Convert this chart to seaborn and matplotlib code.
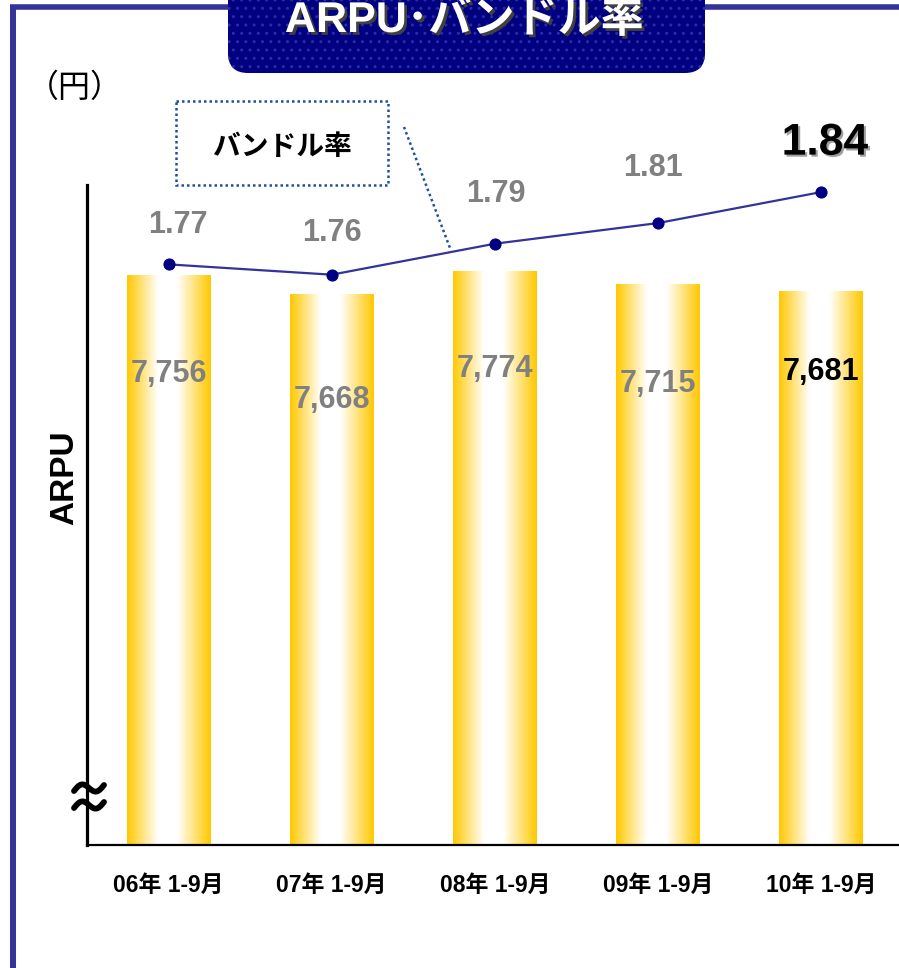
import numpy as np
import matplotlib
matplotlib.use("Agg")
import matplotlib.pyplot as plt
import matplotlib.patheffects as pe
from matplotlib.colors import LinearSegmentedColormap
from matplotlib.patches import FancyBboxPatch, Rectangle
import seaborn as sns

# data
periods = ["06年 1-9月", "07年 1-9月", "08年 1-9月", "09年 1-9月", "10年 1-9月"]
arpu = [7756, 7668, 7774, 7715, 7681]
arpu_labels = ["7,756", "7,668", "7,774", "7,715", "7,681"]
bundle_rate = [1.77, 1.76, 1.79, 1.81, 1.84]
rate_labels = ["1.77", "1.76", "1.79", "1.81", "1.84"]

sns.set_style("white")
plt.rcParams["font.family"] = ["Liberation Sans", "Noto Sans CJK JP", "DejaVu Sans"]
plt.rcParams["text.color"] = "black"
plt.rcParams["xtick.color"] = "black"

W, H = 899, 968
fig = plt.figure(figsize=(W / 100, H / 100), dpi=100)

# main axes (pixel box 87..902 x 185..845)
ax = fig.add_axes([87 / W, 1 - 845 / H, (902.5 - 87) / W, (845 - 185) / H])

gold = "#FFC800"
sns.barplot(x=periods, y=arpu, ax=ax, width=0.515, color=gold, saturation=1)
ax.set_ylim(5129, 8170)
ax.set_xlim(-0.5, 4.5)

cmap = LinearSegmentedColormap.from_list(
    "bar", [(0, gold), (0.37, "white"), (0.6, "white"), (1, gold)])
grad = np.linspace(0, 1, 256).reshape(1, -1)
for p in ax.patches:
    x0, w, top = p.get_x(), p.get_width(), p.get_height()
    im = ax.imshow(grad, extent=[x0, x0 + w, 5129, top], aspect="auto",
                   cmap=cmap, zorder=2)
    im.set_clip_path(p)
    p.set_facecolor("none")
    p.set_linewidth(0)
ax.set_ylim(5129, 8170)
ax.set_xlim(-0.5, 4.5)

# bar value labels (offset below bar top, px)
bar_off = [99, 106, 98, 100, 81]
for i, (v, lab) in enumerate(zip(arpu, arpu_labels)):
    col = "black" if i == len(arpu) - 1 else "#808080"
    ax.annotate(lab, xy=(i, v), xytext=(0, -bar_off[i] * 0.72),
                textcoords="offset points", ha="center", va="center",
                fontsize=22, fontweight="bold", color=col, zorder=5)

sns.despine(ax=ax, top=True, right=True)
ax.spines["left"].set_linewidth(2.3)
ax.spines["bottom"].set_linewidth(1.6)
ax.spines["left"].set_color("black")
ax.spines["bottom"].set_color("black")
ax.set_yticks([])
ax.set_xlabel("")
ax.set_ylabel("")
ax.set_xticks(np.arange(len(periods)))
ax.set_xticklabels(periods, fontsize=16.5, fontweight="bold", color="black")
ax.tick_params(axis="x", which="major", length=0, pad=21)
ax.set_xticks(np.arange(len(periods) - 1) + 0.5, minor=True)
ax.tick_params(axis="x", which="minor", direction="in", length=6, width=1.3,
               color="black")

# bundle rate line
ax2 = ax.twinx()
x_pos = np.arange(len(periods))
sns.lineplot(x=x_pos, y=bundle_rate, ax=ax2, color="#333399", lw=1.6,
             marker="o", markersize=8, markerfacecolor="#000080",
             markeredgecolor="#000080")
ax2.set_ylim(1.2074, 1.8469)
ax2.set_xlim(-0.5, 4.5)
ax2.set_yticks([])
ax2.set_ylabel("")
for s in ax2.spines.values():
    s.set_visible(False)

rate_off = [(9, 39), (0, 42), (1, 50), (-5, 55), (4, 49)]
for i, (v, lab) in enumerate(zip(bundle_rate, rate_labels)):
    dx, dy = rate_off[i]
    if i == len(bundle_rate) - 1:
        ax2.annotate(lab, xy=(i, v), xytext=(dx * 0.72, dy * 0.72),
                     textcoords="offset points", ha="center", va="center",
                     fontsize=32, fontweight="bold", color="black",
                     path_effects=[pe.SimplePatchShadow(offset=(1.5, -1.5),
                                                        shadow_rgbFace="#a0a0a0",
                                                        alpha=1),
                                   pe.Normal()])
    else:
        ax2.annotate(lab, xy=(i, v), xytext=(dx * 0.72, dy * 0.72),
                     textcoords="offset points", ha="center", va="center",
                     fontsize=22, fontweight="bold", color="#808080")

# overlay in pixel coordinates for decorations
ov = fig.add_axes([0, 0, 1, 1])
ov.set_xlim(0, W)
ov.set_ylim(H, 0)
ov.axis("off")

frame = "#333399"
ov.plot([13, 13], [6, H + 5], color=frame, lw=4.3, solid_capstyle="butt")
ov.plot([10, W + 5], [6.5, 6.5], color=frame, lw=4.0, solid_capstyle="butt")

title_box = FancyBboxPatch((228 + 20, -60), 477 - 40, 133 - 20,
                           boxstyle="round,pad=20", facecolor="#000080",
                           edgecolor="#2c2ca8", hatch="..", lw=0, zorder=3)
ov.add_patch(title_box)
ov.text(464, 32, "ARPU･バンドル率", ha="center", va="baseline", fontsize=31,
        fontweight="bold", color="white", zorder=4,
        path_effects=[pe.SimplePatchShadow(offset=(2, -2),
                                           shadow_rgbFace="#404040", alpha=1),
                      pe.Normal()])

ov.text(75, 88, "（円）", ha="center", va="center", fontsize=23,
        family=["Noto Sans CJK JP"], color="black")

# bundle rate callout
dot_col = "#1f4fa0"
ov.add_patch(Rectangle((176, 101), 212, 84, fill=False, edgecolor=dot_col,
                       lw=1.8, linestyle=(0, (1, 1.2))))
ov.text(282, 147, "バンドル率", ha="center", va="center", fontsize=20,
        fontweight="bold", family=["Noto Sans CJK JP"], color="black")
ov.plot([404, 450], [127, 248], color=dot_col, lw=1.8, linestyle=(0, (1, 1.2)))

ov.text(65, 478, "ARPU", ha="center", va="center", rotation=90, fontsize=24,
        fontweight="bold", color="black")

# axis break marks
t = np.linspace(0, 1, 60)
for yc in [788, 805]:
    ov.plot(74 + 30 * t, yc - 5 * np.sin(2 * np.pi * t) + 3 - 6 * t,
            color="black", lw=4.2, solid_capstyle="round")

fig.savefig("out.png", dpi=100)
